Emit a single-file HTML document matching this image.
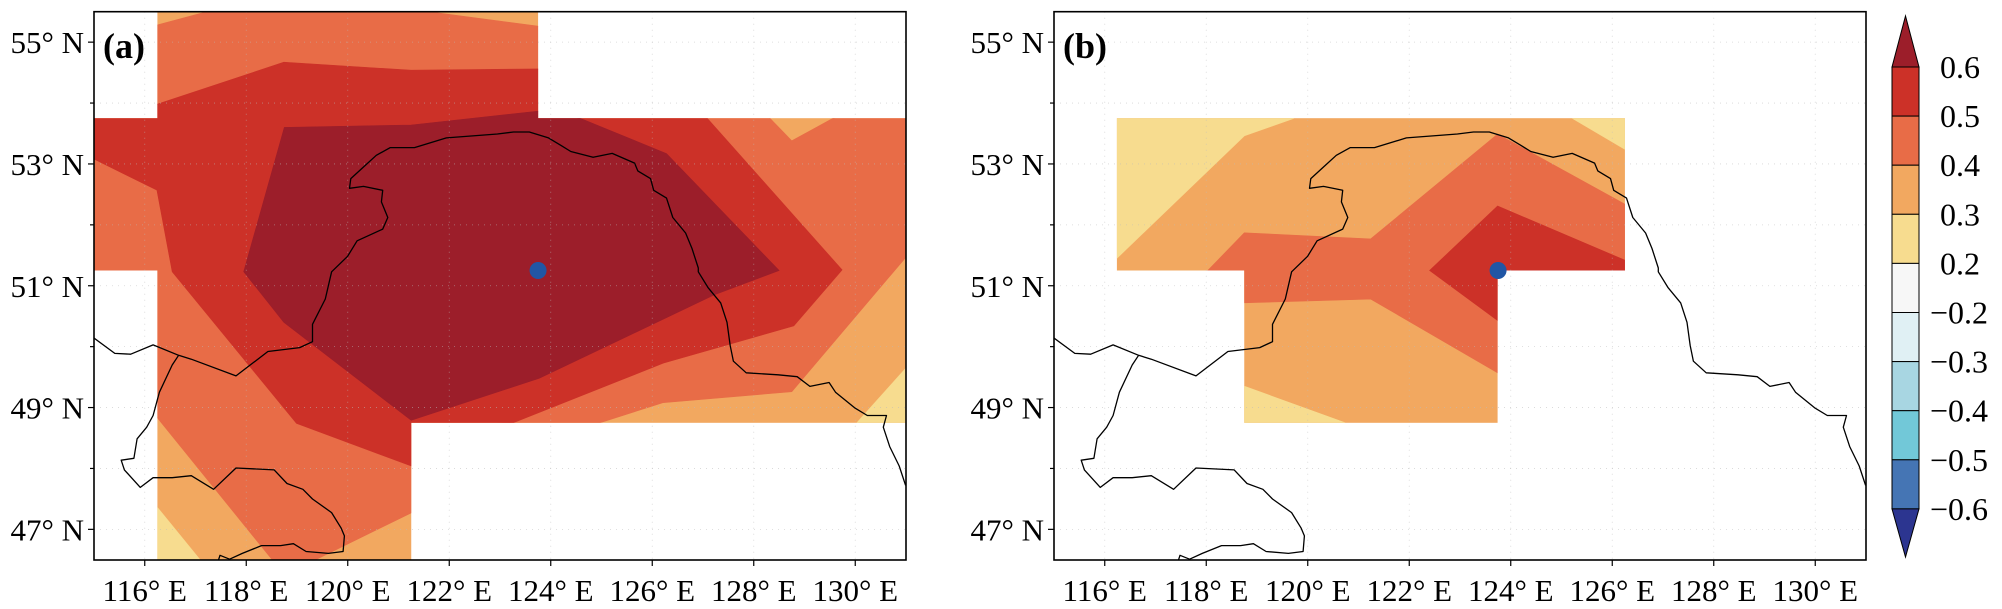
<!DOCTYPE html>
<html><head><meta charset="utf-8"><style>
html,body{margin:0;padding:0;background:#fff;}
svg{display:block;font-family:"Liberation Serif",serif;}
</style></head><body>
<svg id="chart" width="2002" height="609" viewBox="0 0 2002 609" xmlns="http://www.w3.org/2000/svg">
<defs id="defs">
<clipPath id="clipA"><rect x="94" y="11.7" width="812" height="548.3"/></clipPath>
<clipPath id="clipB"><rect x="1054" y="11.7" width="812" height="548.3"/></clipPath>
</defs>
<g id="panelA"></g>
<g id="panelB"></g>
<g id="cbar"></g>
</svg>
<script>
const levelNames = ['0.2-0.3','0.3-0.4','0.4-0.5','0.5-0.6','gt0.6'];
const levelColors = ['#f7dc8f','#f2a860','#e86c47','#cc3128','#9c1e2a'];
const lonTicks = [116,118,120,122,124,126,128,130];
const latTicks = [47,49,51,53,55];
const cbarLabels = ['0.6','0.5','0.4','0.3','0.2','-0.2','-0.3','-0.4','-0.5','-0.6'];
const cbarColors = ['#cc3128','#e86c47','#f2a860','#f7dc8f','#f7f7f7','#e0f0f4','#a8d6e2','#72c8d8','#4575b4'];
const stationLon = 123.75, stationLat = 51.25;
const coverA = [[115,53.75],[116.25,53.75],[116.25,55.6],[123.75,55.6],[123.75,53.75],[131,53.75],[131,48.75],[121.25,48.75],[121.25,46.4],[116.25,46.4],[116.25,51.25],[115,51.25]];
const polysA = [
 [1, coverA],
 [0, [[116.24,47.37],[117.09,46.5],[116.24,46.4]]],
 [0, [[130.03,48.75],[131,49.65],[131,48.75]]],
 [2, [[115,55.7],[116.24,55.28],[117.67,55.6],[120.69,55.6],[123.77,55.26],[123.8,54.05],[128.32,54.05],[128.32,53.75],[128.75,53.38],[129.56,53.75],[131,54.05],[131,51.47],[128.75,49.26],[126.21,49.08],[124.97,48.75],[121.25,48.75],[121.25,47.27],[119.12,46.4],[118.61,46.4],[116.24,48.84],[115,48.84]]],
 [3, [[115,54.1],[116.24,53.98],[118.74,54.67],[121.25,54.54],[123.77,54.56],[123.9,54.0],[127.03,53.8],[129.74,51.26],[128.79,50.34],[126.22,49.73],[123.26,48.75],[121.25,48.7],[121.25,48.04],[118.99,48.74],[116.54,51.23],[116.24,52.57],[115,53.08]]],
 [4, [[118.75,53.6],[121.25,53.64],[123.77,53.87],[124.58,53.75],[126.28,53.17],[128.5,51.25],[127.22,50.85],[123.77,49.48],[121.25,48.79],[118.74,50.4],[117.95,51.23]]]
];
const coverB = [[116.24,53.75],[126.25,53.75],[126.25,51.25],[123.74,51.25],[123.74,48.75],[118.75,48.75],[118.75,51.25],[116.24,51.25]];
const polysB = [
 [1, coverB],
 [0, [[116.24,53.75],[119.73,53.75],[118.75,53.46],[116.24,51.45]]],
 [0, [[125.21,53.75],[126.25,53.75],[126.25,53.24]]],
 [0, [[118.75,49.35],[120.74,48.75],[118.75,48.75]]],
 [2, [[118.03,51.25],[118.75,51.87],[121.24,51.77],[123.74,53.49],[126.25,52.34],[126.25,51.25],[123.74,51.25],[123.74,49.57],[121.24,50.78],[118.75,50.72],[118.75,51.25]]],
 [3, [[122.40,51.25],[123.74,52.31],[126.25,51.42],[126.25,51.25],[123.74,51.25],[123.74,50.43]]]
];
const coastMain = [[147,870],[180,910],[205,912],[240,888],[280,915],[300,925],[370,968],[420,905],[470,895],[490,880],[490,835],[510,770],[520,700],[545,660],[560,620],[600,590],[608,560],[598,520],[600,490],[570,480],[548,485],[550,460],[570,430],[590,400],[612,380],[650,380],[700,355],[780,345],[805,340],[830,340],[860,355],[880,375],[895,390],[930,405],[960,395],[995,420],[1000,440],[1020,460],[1025,490],[1045,510],[1055,560],[1075,600],[1085,640],[1095,690],[1095,700],[1110,740],[1130,780],[1140,830],[1145,890],[1150,930],[1170,960],[1220,965],[1250,970],[1270,995],[1300,985],[1310,1010],[1340,1050],[1360,1070],[1390,1070],[1385,1100],[1395,1150],[1410,1200],[1420,1250]];
const coastSub = [[280,915],[270,940],[250,1010],[240,1070],[230,1100],[215,1130],[210,1180],[190,1185],[195,1210],[220,1255],[240,1230],[270,1230],[300,1225],[335,1260],[370,1205],[430,1210],[450,1245],[475,1260],[490,1285],[520,1320],[535,1360],[540,1380],[538,1420],[515,1425],[480,1420],[460,1400],[440,1405],[410,1405],[380,1425],[360,1440],[345,1430],[342,1445]];

const NS='http://www.w3.org/2000/svg';
function mk(tag, parent, attrs){const e=document.createElementNS(NS,tag);for(const k in attrs)e.setAttribute(k,attrs[k]);parent.appendChild(e);return e;}
const PX=50.75, PY=60.9, TOP=11.7;
function xS(x0,lon){return x0+(lon-115)*PX;}
function yS(lat){return TOP+(55.5-lat)*PY;}
function zLon(zx){return 115+(zx/1.568-94)/PX;}
function zLat(zy){return 55.5-(zy/2.575-TOP)/PY;}
function ptsOf(x0,arr){return arr.map(v=>xS(x0,v[0]).toFixed(1)+','+yS(v[1]).toFixed(1)).join(' ');}

function drawPanel(g,x0,clipId,cover,polys,label){
  const defs=document.getElementById('defs');
  const cp=mk('clipPath',defs,{id:clipId+'cov'});
  mk('polygon',cp,{points:ptsOf(x0,cover)});
  const m=mk('g',g,{'clip-path':'url(#'+clipId+')'});
  
  
  const cg=mk('g',m,{'clip-path':'url(#'+clipId+'cov)'});
  
  
  polys.forEach(p=>{
    const el=mk('polygon',cg,{points:ptsOf(x0,p[1]),fill:levelColors[p[0]],stroke:levelColors[p[0]],'stroke-width':0.6});
    
    
  });
  for(let lon=116;lon<=130;lon+=2){
    const l=mk('line',m,{x1:xS(x0,lon),x2:xS(x0,lon),y1:TOP,y2:560,stroke:'#bbb','stroke-width':0.8,'stroke-dasharray':'1,5',opacity:0.6});
    
    
  }
  for(let lat=47;lat<=55;lat+=1){
    const l=mk('line',m,{x1:x0,x2:x0+812,y1:yS(lat),y2:yS(lat),stroke:'#bbb','stroke-width':0.8,'stroke-dasharray':'1,5',opacity:0.6});
    
    
  }
  [coastMain,coastSub].forEach(c=>{
    const pts=c.map(v=>xS(x0,zLon(v[0])).toFixed(1)+','+yS(zLat(v[1])).toFixed(1)).join(' ');
    const pl=mk('polyline',m,{points:pts,fill:'none',stroke:'#000','stroke-width':1.3,'stroke-linejoin':'round'});
    
    
  });
  const dot=mk('circle',m,{cx:xS(x0,stationLon),cy:yS(stationLat),r:8.5,fill:'#2156a5'});
  
  
  const fr=mk('rect',g,{x:x0,y:TOP,width:812,height:548.3,fill:'none',stroke:'#000','stroke-width':1.6});
  
  
  lonTicks.forEach(lon=>{
    const x=xS(x0,lon);
    const t=mk('line',g,{x1:x,x2:x,y1:560,y2:566,stroke:'#000','stroke-width':1.2});
    
    
    const tx=mk('text',g,{x:x,y:601,'text-anchor':'middle','font-size':31});
    tx.textContent=lon+'° E';
    
    
  });
  for(let lat=47;lat<=55;lat+=1){
    const major=latTicks.indexOf(lat)>=0;
    const t=mk('line',g,{x1:x0-(major?6:4),x2:x0,y1:yS(lat),y2:yS(lat),stroke:'#000','stroke-width':1.2});
    
    
  }
  latTicks.forEach(lat=>{
    const tx=mk('text',g,{x:x0-10,y:yS(lat)+11,'text-anchor':'end','font-size':31});
    tx.textContent=lat+'° N';
    
    
  });
  const pl=mk('text',g,{x:x0+9,y:58,'font-size':36,'font-weight':'bold'});
  pl.textContent=label;
  
  
}
drawPanel(document.getElementById('panelA'),94,'clipA',coverA,polysA,'(a)');
drawPanel(document.getElementById('panelB'),1054,'clipB',coverB,polysB,'(b)');

(function(){
  const g=document.getElementById('cbar');
  const x=1892,w=27,y0=67,h=49.1;
  const top=mk('polygon',g,{points:`${x},${y0} ${x+w/2},16 ${x+w},${y0}`,fill:'#9c1e2a',stroke:'#000','stroke-width':1});
  
  
  cbarColors.forEach((c,i)=>{
    const r=mk('rect',g,{x:x,y:y0+i*h,width:w,height:h,fill:c,stroke:'#000','stroke-width':1});
    
    
  });
  const yb=y0+cbarColors.length*h;
  const bot=mk('polygon',g,{points:`${x},${yb} ${x+w/2},557 ${x+w},${yb}`,fill:'#2c3590',stroke:'#000','stroke-width':1});
  
  
  cbarLabels.forEach((s,i)=>{
    const neg=s[0]==='-';
    const t=mk('text',g,{x:neg?1930:1940,y:y0+i*h+11,'font-size':32});
    t.textContent=neg?'−'+s.slice(1):s;
    
    
  });
})();
</script>
</body></html>
